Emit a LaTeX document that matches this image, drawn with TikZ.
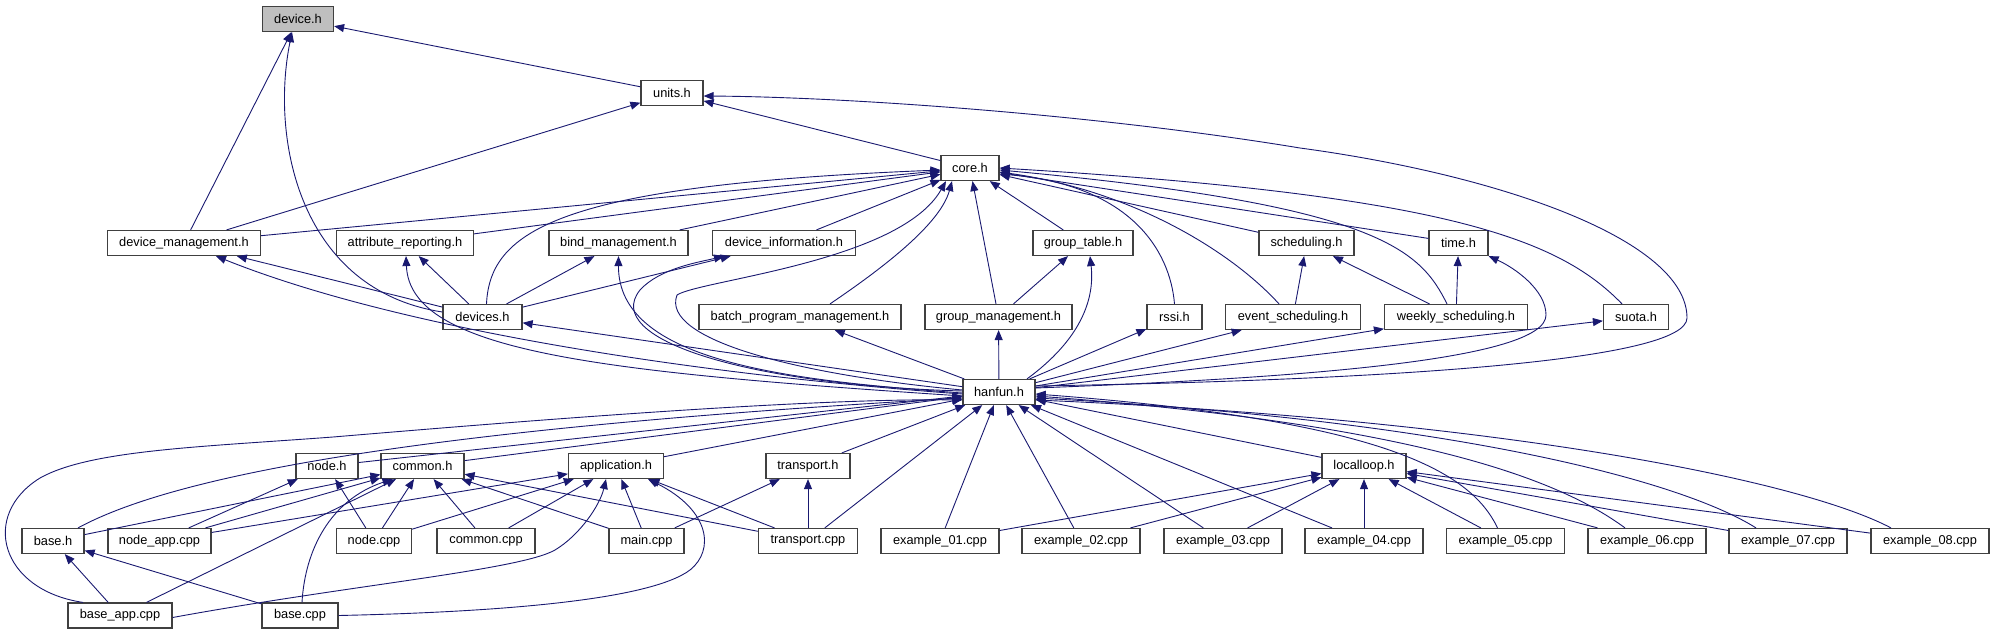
\documentclass[tikz,border=0pt]{standalone}
\usepackage{fontspec}
\setmainfont{Liberation Sans}
\usetikzlibrary{arrows.meta}

\definecolor{edgeblue}{HTML}{191970}
\definecolor{boxline}{HTML}{404040}
\definecolor{mainfill}{HTML}{BFBFBF}

\begin{document}
\begin{tikzpicture}[
    x=1pt, y=-1pt,
    >={Triangle[length=10pt,width=8pt]},
    file/.style={draw=boxline, line width=1.2pt, fill=white, minimum height=25pt,
                 inner sep=0pt, font=\fontsize{12.8}{15}\selectfont},
    dep/.style={draw=edgeblue, line width=0.9pt, ->}
]
\useasboundingbox (0,0) rectangle (1994,635);

    % Headers, top rows
    \node[file, fill=mainfill, minimum width=71pt] (devh) at (298,19) {device.h};
    \node[file, minimum width=62pt]  (units)    at (672,93)    {units.h};
    \node[file, minimum width=58pt]  (core)     at (970,168)   {core.h};

    \node[file, minimum width=153pt] (devmgmt)  at (184,243)   {device\_management.h};
    \node[file, minimum width=137pt] (attrrep)  at (405,243)   {attribute\_reporting.h};
    \node[file, minimum width=139pt] (bindmgmt) at (618.5,243) {bind\_management.h};
    \node[file, minimum width=143pt] (devinfo)  at (784,243)   {device\_information.h};
    \node[file, minimum width=100pt] (grptable) at (1083,243)  {group\_table.h};
    \node[file, minimum width=95pt]  (sched)    at (1306.5,243){scheduling.h};
    \node[file, minimum width=59pt]  (timeh)    at (1458.5,243){time.h};

    \node[file, minimum width=79pt]  (devices)  at (482.5,317) {devices.h};
    \node[file, minimum width=202pt] (batch)    at (800,317)   {batch\_program\_management.h};
    \node[file, minimum width=147pt] (grpmgmt)  at (998.5,317) {group\_management.h};
    \node[file, minimum width=55pt]  (rssi)     at (1174.5,317){rssi.h};
    \node[file, minimum width=135pt] (evsched)  at (1293,317)  {event\_scheduling.h};
    \node[file, minimum width=143pt] (wksched)  at (1456,317)  {weekly\_scheduling.h};
    \node[file, minimum width=65pt]  (suota)    at (1636,317)  {suota.h};

    \node[file, minimum width=72pt]  (hanfun)   at (999,392)   {hanfun.h};

    % Lower rows
    \node[file, minimum width=62pt]  (nodeh)    at (327,466)   {node.h};
    \node[file, minimum width=83pt]  (commonh)  at (422.5,466) {common.h};
    \node[file, minimum width=95pt]  (apph)     at (616,466)   {application.h};
    \node[file, minimum width=84pt]  (transph)  at (808,466)   {transport.h};
    \node[file, minimum width=84pt]  (localloop) at (1364,466) {localloop.h};

    \node[file, minimum width=62pt]  (baseh)    at (53,541)    {base.h};
    \node[file, minimum width=103pt] (nodeapp)  at (159.5,541) {node\_app.cpp};
    \node[file, minimum width=75pt]  (nodecpp)  at (374,541)   {node.cpp};
    \node[file, minimum width=98pt]  (commoncpp) at (486,541)  {common.cpp};
    \node[file, minimum width=75pt]  (maincpp)  at (646.5,541) {main.cpp};
    \node[file, minimum width=99pt]  (transpcpp) at (808,541)  {transport.cpp};
    \node[file, minimum width=118pt] (ex01)     at (940,541)   {example\_01.cpp};
    \node[file, minimum width=118pt] (ex02)     at (1081,541)  {example\_02.cpp};
    \node[file, minimum width=118pt] (ex03)     at (1223,541)  {example\_03.cpp};
    \node[file, minimum width=118pt] (ex04)     at (1364,541)  {example\_04.cpp};
    \node[file, minimum width=118pt] (ex05)     at (1505.5,541){example\_05.cpp};
    \node[file, minimum width=118pt] (ex06)     at (1647,541)  {example\_06.cpp};
    \node[file, minimum width=118pt] (ex07)     at (1788,541)  {example\_07.cpp};
    \node[file, minimum width=118pt] (ex08)     at (1930,541)  {example\_08.cpp};

    \node[file, minimum width=104pt] (baseapp)  at (120,615.5) {base\_app.cpp};
    \node[file, minimum width=76pt]  (basecpp)  at (300,615.5) {base.cpp};

    % device.h and units.h
    \draw[dep] (units) -- (devh);
    \draw[dep] (devmgmt) -- (devh);
    \draw[dep] ([yshift=5pt]devices.west) .. controls (300,290) and (270,140) .. ([xshift=-6pt]devh.south);
    \draw[dep] (devmgmt) -- (units);
    \draw[dep] (core) -- (units);
    \draw[dep] ([yshift=6pt]hanfun.east) .. controls (1400,380) and (1687,360) .. (1687,318)
        .. controls (1687,240) and (1500,175) .. (1300,148)
        .. controls (1100,115) and (850,97) .. ([yshift=-3pt]units.east);

    % core.h
    \draw[dep] (devmgmt) -- (core);
    \draw[dep] (attrrep) -- (core);
    \draw[dep] (bindmgmt) -- (core);
    \draw[dep] (devinfo) -- (core);
    \draw[dep] ([xshift=4pt]devices.north) .. controls (490,230) and (560,185) .. ([yshift=-2pt]core.west);
    \draw[dep] ([xshift=30pt]batch.north) .. controls (880,270) and (940,225) .. ([xshift=-18pt]core.south);
    \draw[dep] ([yshift=2pt]hanfun.west) .. controls (800,375) and (660,340) .. (677,295)
        .. controls (700,280) and (900,262) .. ([xshift=-24pt]core.south);
    \draw[dep] (grpmgmt) -- (core);
    \draw[dep] (grptable) -- (core);
    \draw[dep] (rssi.north) .. controls (1170,250) and (1130,185) .. ([yshift=-6pt]core.east);
    \draw[dep] ([xshift=-14pt]evsched.north) .. controls (1230,250) and (1130,190) .. ([yshift=-4pt]core.east);
    \draw[dep] (sched) -- (core);
    \draw[dep] (timeh) -- (core);
    \draw[dep] ([xshift=-9pt]wksched.north) .. controls (1420,250) and (1380,205) .. ([yshift=-2pt]core.east);
    \draw[dep] ([xshift=-14pt]suota.north) .. controls (1560,240) and (1450,195) .. (core.east);

    % middle rows
    \draw[dep] (devices) -- (devmgmt);
    \draw[dep] ([yshift=-2pt]hanfun.west) .. controls (700,375) and (400,330) .. ([xshift=32pt]devmgmt.south);
    \draw[dep] (devices) -- (attrrep);
    \draw[dep] ([yshift=-4pt]hanfun.west) .. controls (600,372) and (410,352) .. ([xshift=1pt]attrrep.south);
    \draw[dep] (devices) -- (bindmgmt);
    \draw[dep] ([yshift=-1pt]hanfun.west) .. controls (780,380) and (618,360) .. (bindmgmt.south);
    \draw[dep] (devices) -- (devinfo);
    \draw[dep] ([yshift=1pt]hanfun.west) .. controls (750,385) and (600,340) .. (640,290)
        .. controls (660,268) and (700,262) .. ([xshift=-60pt]devinfo.south);
    \draw[dep] (grpmgmt) -- (grptable);
    \draw[dep] ([xshift=28pt]hanfun.north) .. controls (1080,340) and (1095,300) .. ([xshift=7pt]grptable.south);
    \draw[dep] (evsched) -- (sched);
    \draw[dep] (wksched) -- (sched);
    \draw[dep] (wksched) -- (timeh);
    \draw[dep] ([yshift=4pt]hanfun.east) .. controls (1300,378) and (1546,360) .. (1546,315)
        .. controls (1546,290) and (1515,268) .. (timeh.south east);

    \draw[dep] (hanfun) -- (devices);
    \draw[dep] (hanfun) -- (batch);
    \draw[dep] (hanfun) -- (grpmgmt);
    \draw[dep] (hanfun) -- (rssi);
    \draw[dep] (hanfun) -- (evsched);
    \draw[dep] (hanfun) -- (wksched);
    \draw[dep] (hanfun) -- (suota);

    % hanfun.h from below
    \draw[dep] (nodeh) -- (hanfun);
    \draw[dep] (commonh) -- (hanfun);
    \draw[dep] (apph) -- (hanfun);
    \draw[dep] (transph) -- (hanfun);
    \draw[dep] (localloop) -- (hanfun);
    \draw[dep] ([xshift=25pt]baseh.north) .. controls (170,478) and (400,430) .. ([yshift=-6pt]hanfun.west);
    \draw[dep] ([xshift=-37pt]baseapp.north) .. controls (0,590) and (-20,515) .. (40,478)
        .. controls (90,450) and (200,447) .. (333,437)
        .. controls (500,423) and (800,398) .. ([yshift=-8pt]hanfun.west);
    \draw[dep] (transpcpp) -- (hanfun);
    \draw[dep] (ex01) -- (hanfun);
    \draw[dep] (ex02) -- (hanfun);
    \draw[dep] (ex03) -- (hanfun);
    \draw[dep] (ex04) -- (hanfun);
    \draw[dep] ([xshift=-8pt]ex05.north) .. controls (1470,470) and (1380,420) .. ([yshift=-2pt]hanfun.east);
    \draw[dep] ([xshift=-22pt]ex06.north) .. controls (1560,480) and (1420,425) .. ([yshift=-4pt]hanfun.east);
    \draw[dep] ([xshift=-32pt]ex07.north) .. controls (1680,480) and (1450,420) .. ([yshift=-6pt]hanfun.east);
    \draw[dep] ([xshift=-39pt]ex08.north) .. controls (1800,480) and (1500,420) .. ([yshift=-8pt]hanfun.east);

    % bottom rows
    \draw[dep] (nodeapp) -- (nodeh);
    \draw[dep] (nodeapp) -- (commonh);
    \draw[dep] (nodeapp) -- (apph);
    \draw[dep] (nodecpp) -- (nodeh);
    \draw[dep] (nodecpp) -- (commonh);
    \draw[dep] (nodecpp) -- (apph);
    \draw[dep] (commoncpp) -- (commonh);
    \draw[dep] (commoncpp) -- (apph);
    \draw[dep] (maincpp) -- (commonh);
    \draw[dep] (maincpp) -- (apph);
    \draw[dep] (maincpp) -- (transph);
    \draw[dep] (transpcpp) -- (commonh);
    \draw[dep] (transpcpp) -- (apph);
    \draw[dep] (transpcpp) -- (transph);
    \draw[dep] (baseh) -- (commonh);
    \draw[dep] (baseapp) -- (baseh);
    \draw[dep] (baseapp) -- (commonh);
    \draw[dep] (basecpp) -- (baseh);
    \draw[dep] ([xshift=2pt]basecpp.north) .. controls (305,550) and (330,500) .. ([xshift=-30pt]commonh.south);
    \draw[dep] ([yshift=-2pt]baseapp.east) .. controls (350,585) and (520,570) .. (555,550)
        .. controls (580,535) and (600,505) .. ([xshift=-10pt]apph.south);
    \draw[dep] (basecpp.east) .. controls (500,612) and (650,600) .. (690,570)
        .. controls (715,550) and (710,510) .. ([xshift=32pt]apph.south);

    \draw[dep] (ex01) -- (localloop);
    \draw[dep] (ex02) -- (localloop);
    \draw[dep] (ex03) -- (localloop);
    \draw[dep] (ex04) -- (localloop);
    \draw[dep] (ex05) -- (localloop);
    \draw[dep] (ex06) -- (localloop);
    \draw[dep] (ex07) -- (localloop);
    \draw[dep] (ex08) -- (localloop);

\end{tikzpicture}
\end{document}
